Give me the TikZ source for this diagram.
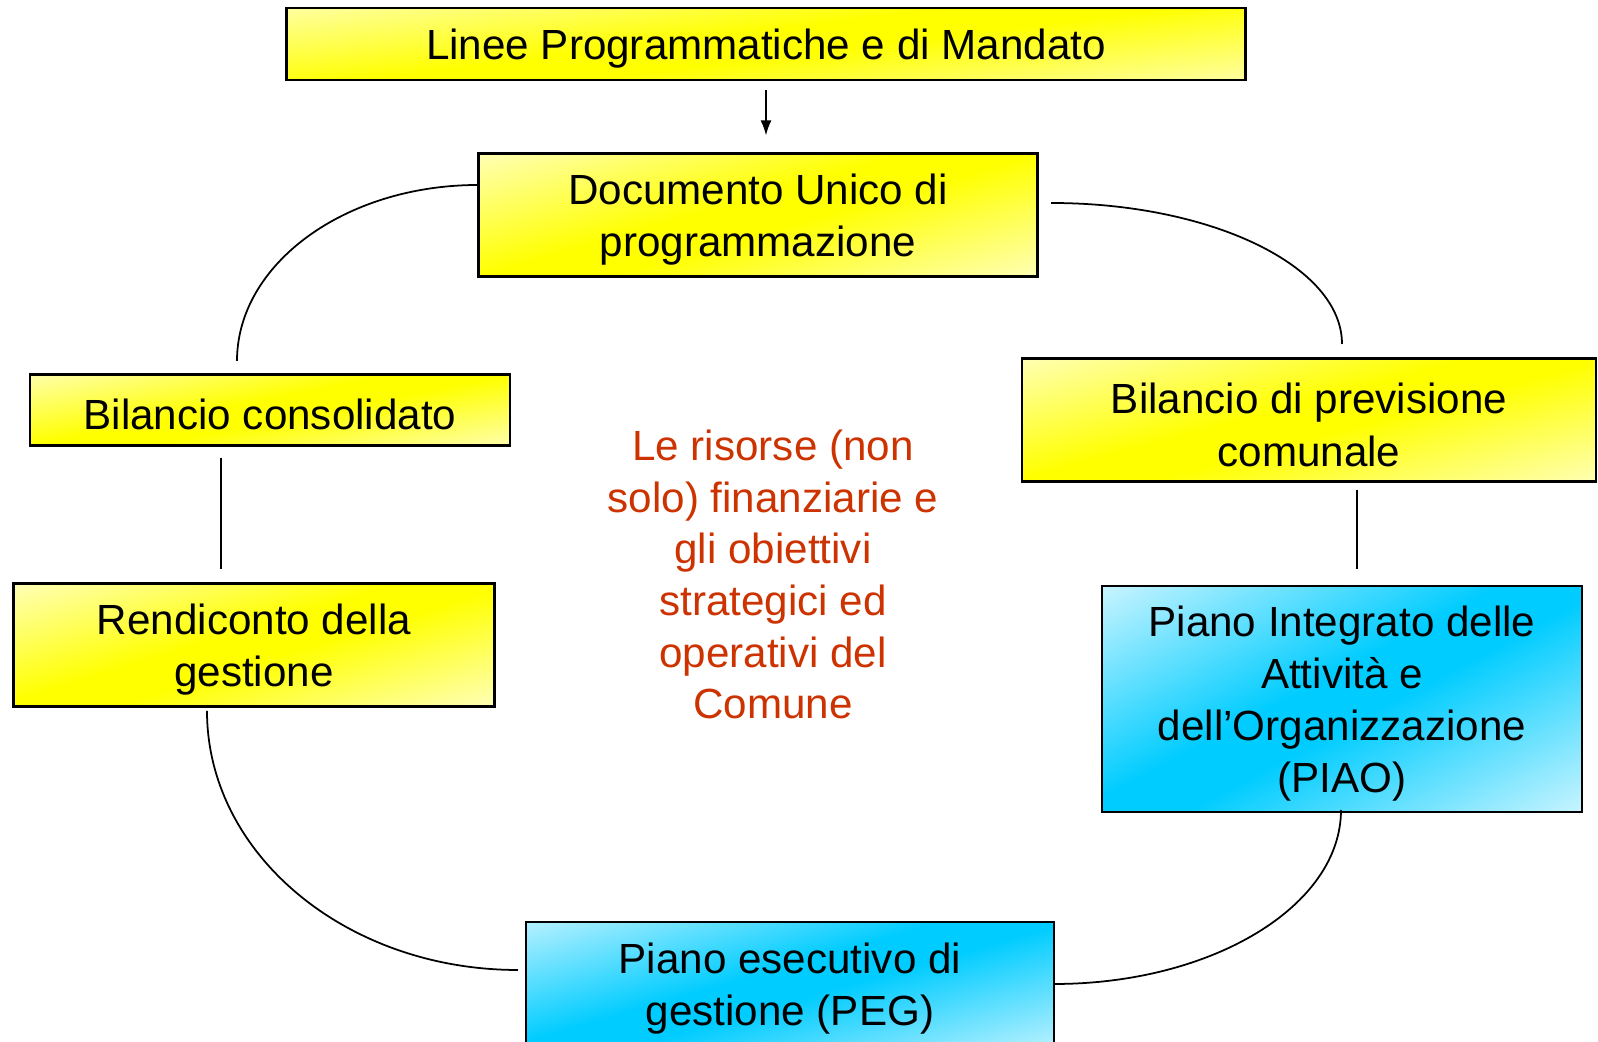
\documentclass[tikz,border=0pt]{standalone}
\usepackage{fontspec}
\setmainfont{Liberation Sans}
\usepackage{tikz}
\usetikzlibrary{arrows.meta}

\definecolor{celeste}{RGB}{0,204,255}
\definecolor{rosso}{RGB}{204,51,0}
\pgfdeclarehorizontalshading{bandagialla}{100bp}{color(0bp)=(white); color(8bp)=(white); color(46bp)=(yellow); color(54bp)=(yellow); color(92bp)=(white); color(100bp)=(white)}
\pgfdeclarehorizontalshading{bandaceleste}{100bp}{color(0bp)=(white); color(8bp)=(white); color(46bp)=(celeste); color(54bp)=(celeste); color(92bp)=(white); color(100bp)=(white)}

% sposta un po' in basso la prima riga di ogni casella
\newcommand{\alto}{\rule{0pt}{11.5pt}}

\tikzset{
    casella/.style={draw, line width=0.6pt, align=center, inner sep=0pt,
        font=\fontsize{12}{14.8}\selectfont},
    gialla/.style={casella, shade, shading=bandagialla, shading angle=#1},
    azzurra/.style={casella, shade, shading=bandaceleste, shading angle=#1},
    filo/.style={line width=0.5pt}
}

\begin{document}
\begin{tikzpicture}
        \useasboundingbox (0,0) rectangle (15.98,10.42);

        \node[gialla=97, minimum width=9.59cm, minimum height=0.72cm] (linee) at (7.66,9.98) {\alto Linee Programmatiche e di Mandato};
        \node[gialla=106, minimum width=5.59cm, minimum height=1.23cm] (dup) at (7.58,8.27) {\alto Documento Unico di\\programmazione};
        \node[gialla=101, minimum width=4.80cm, minimum height=0.71cm] (bilcons) at (2.70,6.32) {\alto Bilancio consolidato};
        \node[gialla=105, minimum width=5.74cm, minimum height=1.23cm] (bilprev) at (13.09,6.22) {\alto Bilancio di previsione\\comunale};
        \node[gialla=107, minimum width=4.81cm, minimum height=1.23cm] (rend) at (2.54,3.97) {\alto Rendiconto della\\gestione};
        \node[azzurra=118, minimum width=4.80cm, minimum height=2.26cm] (piao) at (13.42,3.43) {\alto Piano Integrato delle\\Attività e\\dell’Organizzazione\\(PIAO)};
        \node[azzurra=106, minimum width=5.28cm, minimum height=1.23cm] (peg) at (7.90,0.585) {\alto Piano esecutivo di\\gestione (PEG)};

        \node[align=center, text=rosso, font=\fontsize{12}{14.7}\selectfont] (risorse) at (7.73,4.675)
            {Le risorse (non\\solo) finanziarie e\\gli obiettivi\\strategici ed\\operativi del\\Comune};

        % estremi dei collegamenti
        \coordinate (a1) at (4.78,8.57);
        \coordinate (a2) at (2.37,6.81);
        \coordinate (b1) at (10.51,8.39);
        \coordinate (b2) at (13.42,6.98);
        \coordinate (c1) at (2.07,3.31);
        \coordinate (c2) at (5.18,0.72);
        \coordinate (d1) at (13.41,2.32);
        \coordinate (d2) at (10.54,0.58);
        \coordinate (e1) at (2.21,5.84);
        \coordinate (e2) at (2.21,4.73);
        \coordinate (f1) at (13.57,5.52);
        \coordinate (f2) at (13.57,4.73);

        \draw[filo, -{Latex[length=1.5mm,width=1.1mm]}, shorten <=0.9mm, shorten >=1.7mm] (linee.south) -- (linee.south |- dup.north);

        \draw[filo] (a1) .. controls +(-1.33,0) and +(0,0.97) .. (a2);
        \draw[filo] (b1) .. controls +(1.6,0) and +(0,0.78) .. (b2);
        \draw[filo] (c1) .. controls +(0,-1.43) and +(-1.72,0) .. (c2);
        \draw[filo] (d1) .. controls +(0,-0.96) and +(1.58,0) .. (d2);
        \draw[filo] (e1) -- (e2);
        \draw[filo] (f1) -- (f2);
    \end{tikzpicture}
\end{document}
